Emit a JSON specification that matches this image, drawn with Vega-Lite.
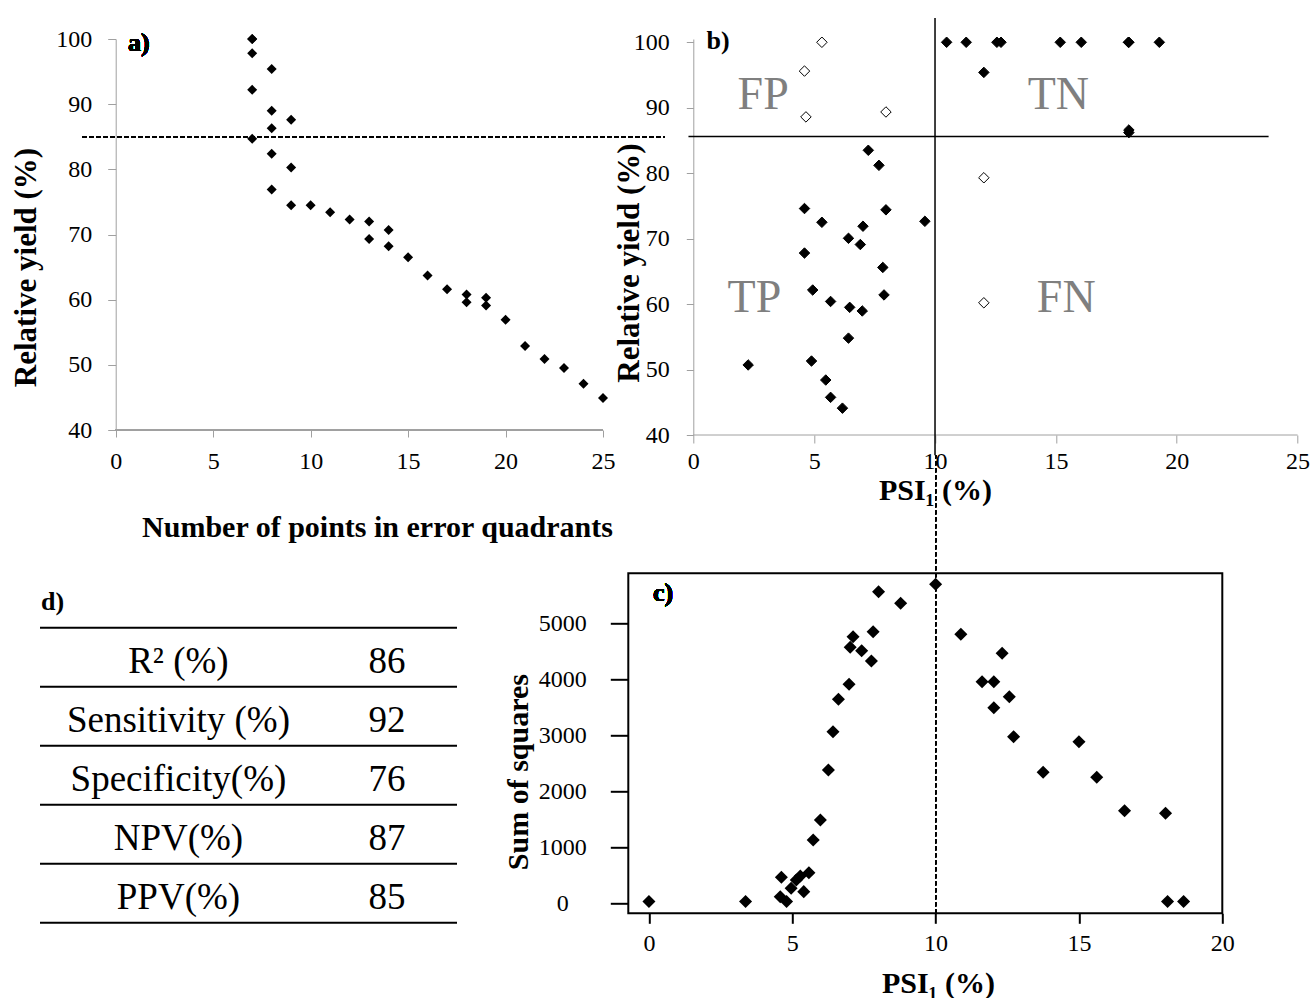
{
  "$schema": "https://vega.github.io/schema/vega-lite/v6.json",
  "background": "white",
  "padding": {"left": 10, "top": 17, "right": 0, "bottom": 0},
  "autosize": {"type": "pad"},
  "config": {
    "font": "Liberation Serif",
    "view": {"stroke": null},
    "axis": {"labelColor": "black", "titleColor": "black", "grid": false, "labelFont": "Liberation Serif", "titleFont": "Liberation Serif", "labelFlush": false, "labelOverlap": false}
  },
  "datasets": {
    "a": [
      {"n": 7, "yield": 100}, {"n": 7, "yield": 100}, {"n": 7, "yield": 97.8}, {"n": 8, "yield": 95.4},
      {"n": 7, "yield": 92.2}, {"n": 8, "yield": 89.0}, {"n": 9, "yield": 87.6}, {"n": 8, "yield": 86.3},
      {"n": 7, "yield": 84.7}, {"n": 8, "yield": 82.4}, {"n": 9, "yield": 80.3}, {"n": 8, "yield": 76.9},
      {"n": 9, "yield": 74.5}, {"n": 10, "yield": 74.5}, {"n": 11, "yield": 73.4}, {"n": 12, "yield": 72.3},
      {"n": 13, "yield": 72.0}, {"n": 14, "yield": 70.7}, {"n": 13, "yield": 69.3}, {"n": 14, "yield": 68.2},
      {"n": 15, "yield": 66.5}, {"n": 16, "yield": 63.7}, {"n": 17, "yield": 61.6}, {"n": 18, "yield": 60.8},
      {"n": 18, "yield": 59.6}, {"n": 19, "yield": 60.3}, {"n": 19, "yield": 59.1}, {"n": 20, "yield": 56.9},
      {"n": 21, "yield": 52.9}, {"n": 22, "yield": 50.9}, {"n": 23, "yield": 49.5}, {"n": 24, "yield": 47.1},
      {"n": 25, "yield": 44.9}
    ],
    "b": [
      {"psi": 10.48, "yield": 100, "status": "correct"}, {"psi": 11.29, "yield": 100, "status": "correct"},
      {"psi": 12.56, "yield": 100, "status": "correct"}, {"psi": 12.73, "yield": 100, "status": "correct"},
      {"psi": 15.18, "yield": 100, "status": "correct"}, {"psi": 16.05, "yield": 100, "status": "correct"},
      {"psi": 18.02, "yield": 100, "status": "correct"}, {"psi": 18.0, "yield": 100, "status": "correct"},
      {"psi": 19.28, "yield": 100, "status": "correct"}, {"psi": 12.02, "yield": 95.4, "status": "correct"},
      {"psi": 18.02, "yield": 86.6, "status": "correct"}, {"psi": 18.02, "yield": 86.2, "status": "correct"},
      {"psi": 7.24, "yield": 83.5, "status": "correct"}, {"psi": 7.68, "yield": 81.2, "status": "correct"},
      {"psi": 4.6, "yield": 74.6, "status": "correct"}, {"psi": 7.97, "yield": 74.4, "status": "correct"},
      {"psi": 5.32, "yield": 72.5, "status": "correct"}, {"psi": 9.58, "yield": 72.65, "status": "correct"},
      {"psi": 7.02, "yield": 71.9, "status": "correct"}, {"psi": 6.42, "yield": 70.05, "status": "correct"},
      {"psi": 6.91, "yield": 69.1, "status": "correct"}, {"psi": 4.6, "yield": 67.8, "status": "correct"},
      {"psi": 7.84, "yield": 65.6, "status": "correct"}, {"psi": 4.94, "yield": 62.15, "status": "correct"},
      {"psi": 7.89, "yield": 61.4, "status": "correct"}, {"psi": 5.68, "yield": 60.4, "status": "correct"},
      {"psi": 6.47, "yield": 59.5, "status": "correct"}, {"psi": 6.99, "yield": 58.95, "status": "correct"},
      {"psi": 6.42, "yield": 54.8, "status": "correct"}, {"psi": 2.27, "yield": 50.7, "status": "correct"},
      {"psi": 4.89, "yield": 51.3, "status": "correct"}, {"psi": 5.48, "yield": 48.4, "status": "correct"},
      {"psi": 5.68, "yield": 45.75, "status": "correct"}, {"psi": 6.17, "yield": 44.1, "status": "correct"},
      {"psi": 5.32, "yield": 100, "status": "error"}, {"psi": 4.6, "yield": 95.6, "status": "error"},
      {"psi": 4.66, "yield": 88.6, "status": "error"}, {"psi": 7.97, "yield": 89.35, "status": "error"},
      {"psi": 12.02, "yield": 79.3, "status": "error"}, {"psi": 12.02, "yield": 60.2, "status": "error"}
    ],
    "quad": [
      {"label": "FP", "psi": 2.89, "yield": 91.9},
      {"label": "TN", "psi": 15.1, "yield": 91.9},
      {"label": "TP", "psi": 2.53, "yield": 60.9},
      {"label": "FN", "psi": 15.43, "yield": 60.9}
    ],
    "c": [
      {"psi": 0.0, "ss": 30}, {"psi": 3.37, "ss": 30}, {"psi": 4.62, "ss": 464}, {"psi": 4.58, "ss": 118},
      {"psi": 4.8, "ss": 30}, {"psi": 4.96, "ss": 268}, {"psi": 5.14, "ss": 416}, {"psi": 5.28, "ss": 488},
      {"psi": 5.4, "ss": 208}, {"psi": 5.58, "ss": 547}, {"psi": 5.73, "ss": 1130}, {"psi": 5.98, "ss": 1488},
      {"psi": 6.26, "ss": 2380}, {"psi": 6.42, "ss": 3065}, {"psi": 6.61, "ss": 3643}, {"psi": 6.98, "ss": 3911},
      {"psi": 7.02, "ss": 4571}, {"psi": 7.12, "ss": 4761}, {"psi": 7.42, "ss": 4511}, {"psi": 7.76, "ss": 4327},
      {"psi": 7.82, "ss": 4850}, {"psi": 8.01, "ss": 5565}, {"psi": 8.78, "ss": 5357}, {"psi": 10.0, "ss": 5696},
      {"psi": 10.88, "ss": 4804}, {"psi": 12.32, "ss": 4464}, {"psi": 11.62, "ss": 3957}, {"psi": 12.03, "ss": 3957},
      {"psi": 12.57, "ss": 3689}, {"psi": 12.03, "ss": 3493}, {"psi": 12.72, "ss": 2975}, {"psi": 15.0, "ss": 2886},
      {"psi": 13.75, "ss": 2339}, {"psi": 15.62, "ss": 2250}, {"psi": 16.59, "ss": 1654}, {"psi": 18.02, "ss": 1607},
      {"psi": 18.09, "ss": 30}, {"psi": 18.65, "ss": 30}
    ],
    "table": [
      {"metric": "R² (%)", "value": 86},
      {"metric": "Sensitivity (%)", "value": 92},
      {"metric": "Specificity(%)", "value": 76},
      {"metric": "NPV(%)", "value": 87},
      {"metric": "PPV(%)", "value": 85}
    ]
  },
  "columns": 2,
  "align": "none",
  "bounds": "flush",
  "spacing": {"row": 138.3, "column": 25.3},
  "concat": [
    {
      "width": 563,
      "height": 391,
      "data": {"name": "a"},
      "layer": [
        {
          "mark": {"type": "rule", "color": "black", "strokeWidth": 1, "strokeDash": [4, 3]},
          "encoding": {"y": {"datum": 85}, "x": {"datum": -1.71}, "x2": {"datum": 28.18}}
        },
        {
          "mark": {"type": "rule", "color": "#a0a0a0", "strokeWidth": 1},
          "encoding": {"y": {"datum": 40}, "x": {"datum": 0}, "x2": {"datum": 25}}
        },
        {
          "mark": {"type": "point", "shape": "diamond", "filled": true, "color": "black", "size": 100, "opacity": 1},
          "encoding": {
            "x": {
              "field": "n", "type": "quantitative",
              "scale": {"domain": [-3.886, 25], "nice": false, "zero": false},
              "axis": {
                "values": [0, 5, 10, 15, 20, 25], "domain": false, "tickColor": "#a0a0a0", "tickSize": 7,
                "labelFont": "Liberation Serif", "labelFontSize": 24, "labelPadding": 12,
                "title": "Number of points in error quadrants", "titleFont": "Liberation Serif", "titleFontSize": 30, "titleFontWeight": "bold",
                "titleX": 337, "titleY": 97, "titleBaseline": "middle", "titleAlign": "center"
              }
            },
            "y": {
              "field": "yield", "type": "quantitative",
              "scale": {"domain": [40, 100], "nice": false, "zero": false},
              "axis": {
                "values": [40, 50, 60, 70, 80, 90, 100], "offset": -75.7, "domainColor": "#a0a0a0",
                "tickColor": "#a0a0a0", "tickSize": 8, "labelFont": "Liberation Serif", "labelFontSize": 24, "labelPadding": 16,
                "title": "Relative yield (%)", "titleFont": "Liberation Serif", "titleFontSize": 31, "titleFontWeight": "bold",
                "titleX": -89, "titleY": 228, "titleBaseline": "middle", "titleAlign": "center"
              }
            }
          }
        },
        {
          "mark": {"type": "text", "text": "a)", "align": "left", "baseline": "middle", "fontSize": 26, "fontWeight": "bold"},
          "encoding": {"x": {"datum": 0.63}, "y": {"datum": 99.46}}
        }
      ]
    },
    {
      "width": 669.3,
      "height": 396,
      "layer": [
        {
          "data": {"name": "quad"},
          "mark": {"type": "text", "fontSize": 46, "color": "#7f7f7f", "baseline": "middle", "align": "center"},
          "encoding": {
            "x": {"field": "psi", "type": "quantitative"},
            "y": {"field": "yield", "type": "quantitative"},
            "text": {"field": "label"}
          }
        },
        {
          "data": {"values": [{}]},
          "mark": {"type": "rule", "color": "#a0a0a0", "strokeWidth": 1},
          "encoding": {"y": {"datum": 40}, "x": {"datum": 0}, "x2": {"datum": 25}}
        },
        {
          "data": {"values": [{}]},
          "mark": {"type": "rule", "color": "black", "strokeWidth": 1.5},
          "encoding": {"y": {"datum": 85.6}, "x": {"datum": -0.2}, "x2": {"datum": 23.8}}
        },
        {
          "data": {"values": [{}]},
          "mark": {"type": "rule", "color": "black", "strokeWidth": 1.5},
          "encoding": {"x": {"datum": 10}, "y": {"datum": 36.9}, "y2": {"datum": 103.7}}
        },
        {
          "data": {"name": "b"},
          "mark": {"type": "point", "shape": "diamond", "filled": true, "stroke": "black", "strokeWidth": 1, "size": 110, "opacity": 1},
          "encoding": {
            "x": {
              "field": "psi", "type": "quantitative",
              "scale": {"domain": [-2.689, 25], "nice": false, "zero": false},
              "axis": {
                "values": [0, 5, 10, 15, 20, 25], "domain": false, "tickColor": "#a0a0a0", "tickSize": 8,
                "labelFont": "Liberation Serif", "labelFontSize": 24, "labelPadding": 6,
                "title": "PSI₁ (%)", "titleFont": "Liberation Serif", "titleFontSize": 30, "titleFontWeight": "bold",
                "titleX": 306.7, "titleY": 55, "titleBaseline": "middle", "titleAlign": "center"
              }
            },
            "y": {
              "field": "yield", "type": "quantitative",
              "scale": {"domain": [40, 100.5], "nice": false, "zero": false},
              "axis": {
                "values": [40, 50, 60, 70, 80, 90, 100], "offset": -65, "domainColor": "#a0a0a0", "tickColor": "#a0a0a0",
                "tickSize": 7, "labelFont": "Liberation Serif", "labelFontSize": 24, "labelPadding": 17,
                "title": "Relative yield (%)", "titleFont": "Liberation Serif", "titleFontSize": 31, "titleFontWeight": "bold",
                "titleX": -64.3, "titleY": 223.6, "titleBaseline": "middle", "titleAlign": "center"
              }
            },
            "fill": {
              "field": "status", "type": "nominal",
              "scale": {"domain": ["correct", "error"], "range": ["black", "white"]},
              "legend": null
            }
          }
        },
        {
          "data": {"values": [{}]},
          "mark": {"type": "text", "text": "b)", "align": "left", "baseline": "middle", "fontSize": 26, "fontWeight": "bold"},
          "encoding": {"x": {"datum": 0.55}, "y": {"datum": 100.23}}
        }
      ]
    },
    {
      "width": 417,
      "height": 349.4,
      "data": {"name": "table"},
      "title": {"text": "d)", "anchor": "start", "fontSize": 26, "fontWeight": "bold", "font": "Liberation Serif", "offset": -42, "dx": 2, "color": "black"},
      "layer": [
        {
          "mark": {"type": "rule", "color": "black", "strokeWidth": 2},
          "encoding": {
            "y": {
              "field": "metric", "type": "nominal", "bandPosition": 0, "axis": null,
              "scale": {"type": "band", "domain": ["R² (%)", "Sensitivity (%)", "Specificity(%)", "NPV(%)", "PPV(%)"], "paddingInner": 0, "paddingOuter": 0.461, "align": 1}
            }
          }
        },
        {
          "transform": [{"filter": "datum.metric === 'PPV(%)'"}],
          "mark": {"type": "rule", "color": "black", "strokeWidth": 2},
          "encoding": {"y": {"field": "metric", "type": "nominal", "bandPosition": 1, "axis": null}}
        },
        {
          "mark": {"type": "text", "fontSize": 37, "baseline": "middle", "align": "center", "dy": 5},
          "encoding": {
            "y": {"field": "metric", "type": "nominal", "axis": null},
            "x": {"datum": "label", "type": "nominal", "axis": null, "scale": {"type": "point", "domain": ["label", "value"], "padding": 0.5, "align": 0.664}},
            "text": {"field": "metric"}
          }
        },
        {
          "mark": {"type": "text", "fontSize": 37, "baseline": "middle", "align": "center", "dy": 5},
          "encoding": {
            "y": {"field": "metric", "type": "nominal", "axis": null},
            "x": {"datum": "value", "type": "nominal", "axis": null},
            "text": {"field": "value"}
          }
        }
      ]
    },
    {
      "width": 594,
      "height": 340,
      "view": {"stroke": "black", "strokeWidth": 2},
      "data": {"name": "c"},
      "layer": [
        {
          "mark": {"type": "rule", "color": "black", "strokeWidth": 1, "strokeDash": [4, 3]},
          "encoding": {"x": {"datum": 10}, "y": {"datum": -179}, "y2": {"datum": 8005}}
        },
        {
          "mark": {"type": "point", "shape": "diamond", "filled": true, "color": "black", "size": 170, "opacity": 1},
          "encoding": {
            "x": {
              "field": "psi", "type": "quantitative",
              "scale": {"domain": [-0.72, 20], "nice": false, "zero": false},
              "axis": {
                "values": [0, 5, 10, 15, 20], "domain": false, "tickColor": "black", "tickWidth": 2, "tickSize": 10,
                "labelFont": "Liberation Serif", "labelFontSize": 24, "labelPadding": 8,
                "title": "PSI₁ (%)", "titleFont": "Liberation Serif", "titleFontSize": 30, "titleFontWeight": "bold",
                "titleX": 309.7, "titleY": 69.7, "titleBaseline": "middle", "titleAlign": "center"
              }
            },
            "y": {
              "field": "ss", "type": "quantitative",
              "scale": {"domain": [-179, 5893], "nice": false, "zero": false},
              "axis": {
                "values": [0, 1000, 2000, 3000, 4000, 5000], "format": "d", "domain": false, "tickColor": "black", "tickWidth": 2,
                "tickSize": 18, "labelFont": "Liberation Serif", "labelFontSize": 24, "labelPadding": 48, "labelAlign": "center",
                "title": "Sum of squares", "titleFont": "Liberation Serif", "titleFontSize": 30, "titleFontWeight": "bold",
                "titleX": -110.3, "titleY": 198.3, "titleBaseline": "middle", "titleAlign": "center"
              }
            }
          }
        },
        {
          "mark": {"type": "text", "text": "c)", "align": "left", "baseline": "middle", "fontSize": 26, "fontWeight": "bold"},
          "encoding": {"x": {"datum": 0.14}, "y": {"datum": 5541}}
        }
      ]
    }
  ]
}
